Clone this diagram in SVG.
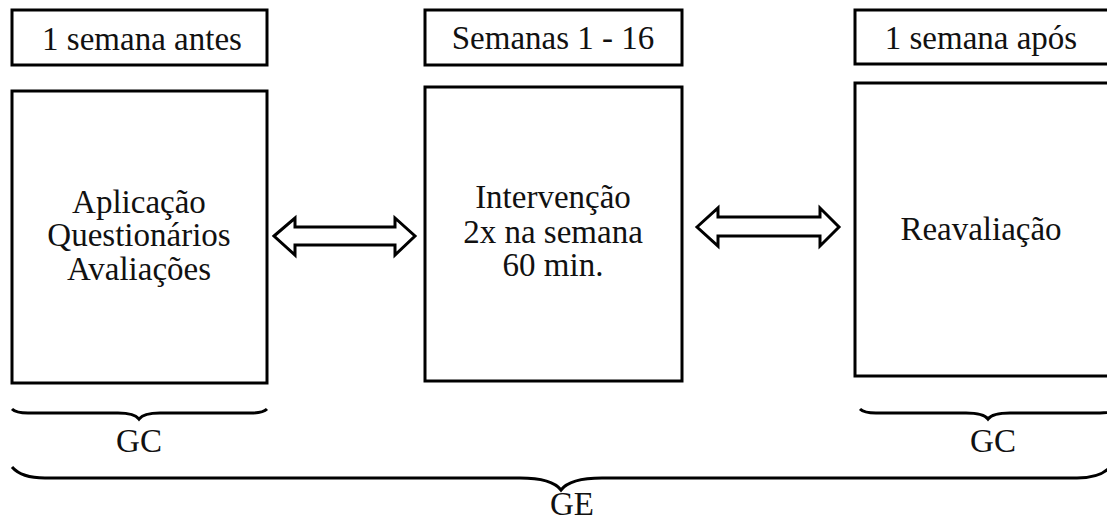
<svg xmlns="http://www.w3.org/2000/svg" width="1107" height="521" viewBox="0 0 1107 521">
  <style>
    .box { fill: #fff; stroke: #000; stroke-width: 3; }
    .arrow { fill: #fff; stroke: #000; stroke-width: 3; stroke-linejoin: miter; }
    .brace { fill: none; stroke: #000; stroke-width: 3; }
    text { font-family: "Liberation Serif", "Times New Roman", serif; font-size: 33px; fill: #111; }
    .mid { text-anchor: middle; }
  </style>
  <rect width="1107" height="521" fill="#fff"/>

  <!-- Phase 1: before -->
  <g id="label-before">
    <rect class="box" x="12" y="10" width="255" height="55"/>
    <text class="mid" x="142" y="50">1 semana antes</text>
  </g>
  <g id="node-before">
    <rect class="box" x="12" y="91" width="255" height="292"/>
    <text class="mid" x="139" y="213">Aplicação</text>
    <text class="mid" x="139" y="246">Questionários</text>
    <text class="mid" x="139" y="280">Avaliações</text>
  </g>

  <!-- Phase 2: intervention -->
  <g id="label-during">
    <rect class="box" x="425" y="10" width="257" height="55"/>
    <text class="mid" x="553" y="49">Semanas 1 - 16</text>
  </g>
  <g id="node-during">
    <rect class="box" x="425" y="87" width="257" height="294"/>
    <text class="mid" x="553" y="208">Intervenção</text>
    <text class="mid" x="553" y="243">2x na semana</text>
    <text class="mid" x="553" y="276">60 min.</text>
  </g>

  <!-- Phase 3: after -->
  <g id="label-after">
    <rect class="box" x="855" y="10" width="270" height="54"/>
    <text class="mid" x="981" y="49">1 semana após</text>
  </g>
  <g id="node-after">
    <rect class="box" x="855" y="83" width="270" height="293"/>
    <text class="mid" x="981" y="240">Reavaliação</text>
  </g>

  <!-- Connectors -->
  <g id="connectors">
    <polygon class="arrow" points="274,236 295,218 295,227 395,227 395,218 415,236 395,255 395,245 295,245 295,255"/>
    <polygon class="arrow" points="697,227 718,208 718,217 820,217 820,208 839,227 820,246 820,236 718,236 718,246"/>
  </g>

  <!-- Group braces -->
  <g id="brace-gc-left">
    <path class="brace" d="M12,409 C15,412 20,413 28,413 L118,413 C130,413 136,415 139,419 C142,415 148,413 160,413 L251,413 C259,413 264,412 267,409"/>
    <text class="mid" x="139" y="452">GC</text>
  </g>
  <g id="brace-gc-right">
    <path class="brace" d="M860,409 C863,412 868,413 876,413 L966,413 C978,413 985,415 988,419 C991,415 998,413 1010,413 L1100,413 C1108,413 1113,412 1116,409"/>
    <text class="mid" x="993" y="452">GC</text>
  </g>
  <g id="brace-ge">
    <path class="brace" d="M12,467 C18,474 28,478 45,478 L520,478 C540,478 555,482 561,490 C567,482 582,478 602,478 L1077,478 C1094,478 1104,474 1110,467"/>
    <text class="mid" x="572" y="515">GE</text>
  </g>
</svg>
